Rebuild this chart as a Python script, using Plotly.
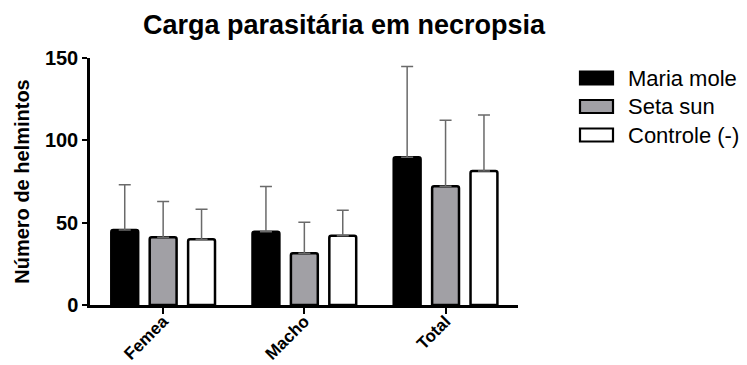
import plotly.graph_objects as go

categories = ["Femea", "Macho", "Total"]
series_names = ["Maria mole", "Seta sun", "Controle (-)"]
maria_mole = [45.6, 44.5, 89.7]
seta_sun = [41.1, 31.4, 72.1]
controle = [39.9, 42.1, 81.4]
maria_mole_err = [27.5, 27.4, 55.1]
seta_sun_err = [21.7, 18.8, 40.1]
controle_err = [18.2, 15.4, 34.0]
y_ticks = [0, 50, 100, 150]

fills = ["#000000", "#a1a0a5", "#ffffff"]
values = [maria_mole, seta_sun, controle]
errors = [maria_mole_err, seta_sun_err, controle_err]

FONT = "Liberation Sans, Arial, sans-serif"
OFF = 8  # default page body margin
W, H = 747 - OFF, 365 - OFF
L, T = 90 - OFF, 58 - OFF
R = W - (518 - OFF)
B = H - (305 - OFF)
pw, ph = W - L - R, H - T - B


def px_x(page_x):
    return (page_x - OFF - L) / pw


def px_y(page_y):
    return (H - B - (page_y - OFF)) / ph


fig = go.Figure()
for name, vals, err, col in zip(series_names, values, errors, fills):
    fig.add_trace(go.Bar(
        x=categories, y=vals, name=name,
        marker=dict(color=col, line=dict(color="#000000", width=2.5), cornerradius=2),
        error_y=dict(type="data", symmetric=False, array=err,
                     arrayminus=[0] * len(err), color="#6a6a6a",
                     thickness=1.5, width=6),
        showlegend=False,
    ))

# custom legend (wide rectangular swatches)
legend_px_y = [78, 106.5, 135]
for name, col, cy in zip(series_names, fills, legend_px_y):
    yc = px_y(cy)
    dh = 6.5 / ph
    fig.add_shape(type="rect", xref="paper", yref="paper",
                  x0=px_x(580), x1=px_x(613), y0=yc - dh, y1=yc + dh,
                  fillcolor=col, line=dict(color="#000000", width=2.2))
    fig.add_annotation(xref="paper", yref="paper", x=px_x(626), y=yc,
                       text=name, showarrow=False, xanchor="left", yanchor="middle",
                       font=dict(family=FONT, size=22, color="#000000"))

fig.update_layout(
    width=W, height=H,
    margin=dict(l=L, r=R, t=T, b=B, autoexpand=False),
    paper_bgcolor="white", plot_bgcolor="white",
    barmode="group", bargap=0.184, bargroupgap=0.3,
    title=dict(text="Carga parasitária em necropsia", x=(344 - OFF) / W, xref="container",
               xanchor="center", y=1 - (25 - OFF) / H, yref="container", yanchor="middle",
               font=dict(family=FONT, size=27, color="#000000", weight="bold")),
    font=dict(family=FONT, color="#000000"),
)
fig.update_xaxes(
    range=[-0.518, 2.513], showline=True, linecolor="#000000", linewidth=2.5,
    ticks="outside", ticklen=6, tickwidth=2, tickcolor="#000000",
    tickangle=-45, showgrid=False, zeroline=False, automargin=False,
    ticklabelstandoff=-9,
    tickfont=dict(family=FONT, size=17, color="#000000", weight="bold"),
)
fig.update_yaxes(
    range=[0, 150], tickvals=y_ticks, showline=True, linecolor="#000000", linewidth=2.5,
    ticks="outside", ticklen=5, tickwidth=2, tickcolor="#000000",
    showgrid=False, zeroline=False, automargin=False,
    tickfont=dict(family=FONT, size=20, color="#000000", weight="bold"),
    title=dict(text="Número de helmintos", standoff=10,
               font=dict(family=FONT, size=20, color="#000000", weight="bold")),
)

fig.write_html("out.html")
